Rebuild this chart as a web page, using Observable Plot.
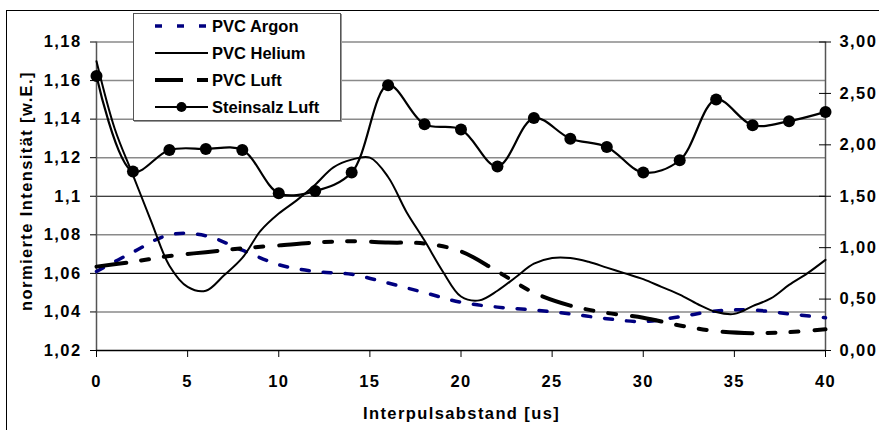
<!DOCTYPE html>
<html><head><meta charset="utf-8">
<script src="https://cdn.jsdelivr.net/npm/d3@7"></script>
<script src="https://cdn.jsdelivr.net/npm/@observablehq/plot@0.6"></script>
<style>
html,body{margin:0;padding:0;background:#fff;}
#wrap{position:relative;width:879px;height:430px;overflow:hidden;font-family:"Liberation Sans",Arial,sans-serif;font-weight:bold;color:#000;}
#frame{position:absolute;left:6px;top:10px;width:900px;height:450px;border:1px solid #000;}
#chart{position:absolute;left:0;top:0;}
#legend{position:absolute;left:133px;top:13px;width:206px;height:106px;border:1px solid #555;background:#fff;box-shadow:1px 1px 0 #999;}
.row{position:absolute;left:0;height:26px;width:206px;}
.row svg{position:absolute;left:21px;top:0;}
.row span{position:absolute;left:78px;top:0;line-height:26px;font-size:16.5px;white-space:nowrap;}
.title{position:absolute;font-size:16.5px;letter-spacing:1.4px;white-space:nowrap;}
</style>
</head><body>
<div id="wrap">
  <div id="frame"></div>
  <div id="chart"></div>
  <div id="legend"></div>
  <div class="title" id="xt"></div>
  <div class="title" id="yt"></div>
</div>
<script>
// ---- data ----
const xStep1 = [0,1,2,3,4,5,6,7,8,9,10,11,12,13,14,15,16,17,18,19,20,21,22,23,24,25,26,27,28,29,30,31,32,33,34,35,36,37,38,39,40];
const pvcHelium = [1.170,1.135,1.111,1.087,1.064,1.053,1.051,1.059,1.068,1.082,1.091,1.098,1.106,1.115,1.119,1.120,1.110,1.092,1.077,1.061,1.048,1.046,1.051,1.058,1.065,1.068,1.068,1.066,1.063,1.060,1.057,1.053,1.049,1.044,1.040,1.039,1.043,1.047,1.054,1.060,1.067];
const xStep2 = [0,2,4,6,8,10,12,14,16,18,20,22,24,26,28,30,32,34,36,38,40];
const pvcArgon = [1.061,1.071,1.080,1.0795,1.072,1.0645,1.061,1.0595,1.055,1.050,1.045,1.0425,1.041,1.039,1.0365,1.035,1.0375,1.0405,1.041,1.039,1.037];
const pvcLuft = [1.0635,1.066,1.069,1.071,1.073,1.0745,1.076,1.0767,1.076,1.0755,1.0714,1.061,1.050,1.0433,1.0395,1.037,1.033,1.030,1.029,1.0295,1.031];
const steinsalzLuft = [2.67,1.74,1.95,1.96,1.95,1.53,1.55,1.73,2.58,2.20,2.15,1.79,2.26,2.06,1.98,1.73,1.85,2.44,2.19,2.23,2.32];
const leftTicks = [1.02,1.04,1.06,1.08,1.10,1.12,1.14,1.16,1.18];
const rightTicks = [0,0.5,1,1.5,2,2.5,3];
const xTicks = [0,5,10,15,20,25,30,35,40];
const gridGray = [1.04,1.08,1.12,1.14,1.16,1.18];
const gridDark = [1.06,1.10];
const seriesNames = ["PVC Argon","PVC Helium","PVC Luft","Steinsalz Luft"];
const xTitle = "Interpulsabstand [us]";
const yTitle = "normierte Intensität [w.E.]";

// right axis (0..3) mapped onto the left scale (1.02..1.18)
const rightToLeft = v => 1.02 + v * (0.16 / 3);
const leftToRight = y => (y - 1.02) * 3 / 0.16;

const helium = xStep1.map((x,i) => ({x, y: pvcHelium[i]}));
const argon = xStep2.map((x,i) => ({x, y: pvcArgon[i]}));
const luft = xStep2.map((x,i) => ({x, y: pvcLuft[i]}));
const stein = xStep2.map((x,i) => ({x, y: rightToLeft(steinsalzLuft[i])}));

const fmtLeft = d => String(+d.toFixed(2)).replace(".", ",");
const fmtRight = d => leftToRight(d).toFixed(2).replace(".", ",");

const chart = Plot.plot({
  width: 879, height: 430,
  marginLeft: 96, marginRight: 54, marginTop: 41.5, marginBottom: 80,
  x: {domain: [0, 40]},
  y: {domain: [1.02, 1.18]},
  style: {fontFamily: '"Liberation Sans", Arial, sans-serif', fontWeight: "bold", fontSize: "16.5px", letterSpacing: "1.4px", background: "transparent", overflow: "visible"},
  marks: [
    Plot.gridY(gridGray, {stroke: "#8a8a8a", strokeOpacity: 1, strokeWidth: 1.5}),
    Plot.gridY(gridDark, {stroke: "#000", strokeOpacity: 1, strokeWidth: 1.2}),
    Plot.ruleX([0, 40], {stroke: "#555", strokeWidth: 1.5}),
    Plot.ruleY([1.02], {stroke: "#000", strokeWidth: 1.5}),
    Plot.axisY({ticks: leftTicks, tickFormat: fmtLeft, tickSize: 6, tickPadding: 9, label: null}),
    Plot.axisY({anchor: "right", ticks: rightTicks.map(rightToLeft), tickSize: 12, dx: -7, text: null, label: null}),
    Plot.axisY({anchor: "right", ticks: rightTicks.map(rightToLeft), tickFormat: fmtRight, tickSize: 0, tickPadding: 14, label: null}),
    Plot.axisX({ticks: xTicks, tickFormat: d => String(d), tickSize: 7, tickPadding: 18, label: null}),
    Plot.line(argon, {x: "x", y: "y", stroke: "#000080", strokeWidth: 3.5, strokeDasharray: "8,14", curve: "catmull-rom"}),
    Plot.line(helium, {x: "x", y: "y", stroke: "#000", strokeWidth: 2, curve: "catmull-rom"}),
    Plot.line(luft, {x: "x", y: "y", stroke: "#000", strokeWidth: 4, strokeDasharray: "30,15,8,15,8,16", curve: "catmull-rom"}),
    Plot.line(stein, {x: "x", y: "y", stroke: "#000", strokeWidth: 2.2, curve: "catmull-rom"}),
    Plot.dot(stein, {x: "x", y: "y", r: 6, fill: "#000", stroke: "none"})
  ]
});
document.getElementById("chart").appendChild(chart);

// legend
const legend = document.getElementById("legend");
const samples = [
  `<line x1="0" y1="13" x2="53" y2="13" stroke="#000080" stroke-width="3.5" stroke-dasharray="7,15"/>`,
  `<line x1="0" y1="13" x2="53" y2="13" stroke="#000" stroke-width="2"/>`,
  `<line x1="0" y1="13" x2="53" y2="13" stroke="#000" stroke-width="4" stroke-dasharray="28,14,11,0"/>`,
  `<line x1="0" y1="13" x2="53" y2="13" stroke="#000" stroke-width="2"/><circle cx="26.5" cy="13" r="5" fill="#000"/>`
];
seriesNames.forEach((name, i) => {
  const row = document.createElement("div");
  row.className = "row";
  row.style.top = (i * 27 - 1) + "px";
  row.innerHTML = `<svg width="53" height="26">${samples[i]}</svg><span>${name}</span>`;
  legend.appendChild(row);
});

const xt = document.getElementById("xt");
xt.textContent = xTitle;
xt.style.left = "363px"; xt.style.top = "404px";
const yt = document.getElementById("yt");
yt.textContent = yTitle;
yt.style.left = "26px"; yt.style.top = "191px";
yt.style.transform = "translate(-50%,-50%) rotate(-90deg)";
</script>
</body></html>
